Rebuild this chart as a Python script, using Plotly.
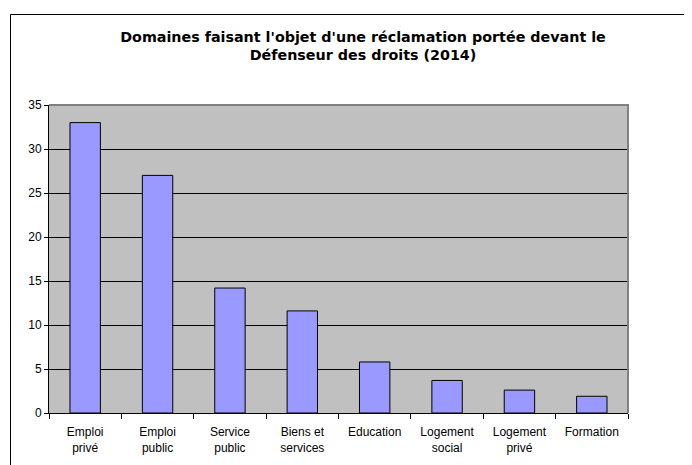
import plotly.graph_objects as go

categories = ["Emploi<br>privé", "Emploi<br>public", "Service<br>public", "Biens et<br>services",
              "Education", "Logement<br>social", "Logement<br>privé", "Formation"]
values = [33.0, 27.0, 14.2, 11.6, 5.8, 3.7, 2.6, 1.9]
y_ticks = [0, 5, 10, 15, 20, 25, 30, 35]

title_text = "<b>Domaines faisant l'objet d'une réclamation portée devant le<br>Défenseur des droits (2014)</b>"

# page body has an 8px offset; figure coordinates below are relative to the figure origin
OFF = 8
W, H = 692 - OFF, 465 - OFF
ml, mt = 49 - OFF, 105 - OFF
mr = W - (628 - OFF)
mb = H - (413 - OFF)
pw, ph = W - ml - mr, H - mt - mb

def px_to_paper_x(px):
    return (px - OFF - ml) / pw

def px_to_paper_y(py):
    return (H - mb - (py - OFF)) / ph

fig = go.Figure(go.Bar(
    x=categories, y=values,
    marker=dict(color="#9999FF", line=dict(color="#000000", width=1)),
    width=0.42,
))

fig.update_layout(
    width=W, height=H,
    margin=dict(l=ml, r=mr, t=mt, b=mb, autoexpand=False),
    paper_bgcolor="white",
    plot_bgcolor="#C0C0C0",
    font=dict(family="Liberation Sans, Arial, sans-serif", size=12, color="black"),
    title=dict(text=title_text, x=px_to_paper_x(363), xref="paper", xanchor="center",
               y=1 - (41.5 - OFF) / H, yanchor="middle",
               font=dict(family="DejaVu Sans, sans-serif", size=14.3, color="black")),
    showlegend=False,
    shapes=[
        dict(type="path", xref="paper", yref="paper",
             path="M 0,1 L 1,1 L 1,0", line=dict(color="#808080", width=2), layer="above"),
        dict(type="rect", xref="paper", yref="paper",
             x0=px_to_paper_x(10.5), x1=px_to_paper_x(720),
             y0=px_to_paper_y(500), y1=px_to_paper_y(14.5),
             line=dict(color="black", width=1), layer="below"),
    ],
)

fig.update_xaxes(
    type="category",
    showline=True, linecolor="black", linewidth=1,
    ticks="outside", tickson="boundaries", ticklen=5, tickcolor="black",
    ticklabelstandoff=8,
    showgrid=False,
    tickfont=dict(size=12),
)
fig.update_yaxes(
    range=[0, 35], tickvals=y_ticks,
    showline=True, linecolor="black", linewidth=1,
    ticks="outside", ticklen=4, tickcolor="black",
    showgrid=True, gridcolor="black", gridwidth=1,
    zeroline=False,
    tickfont=dict(size=12),
)

fig.write_html("out.html")
